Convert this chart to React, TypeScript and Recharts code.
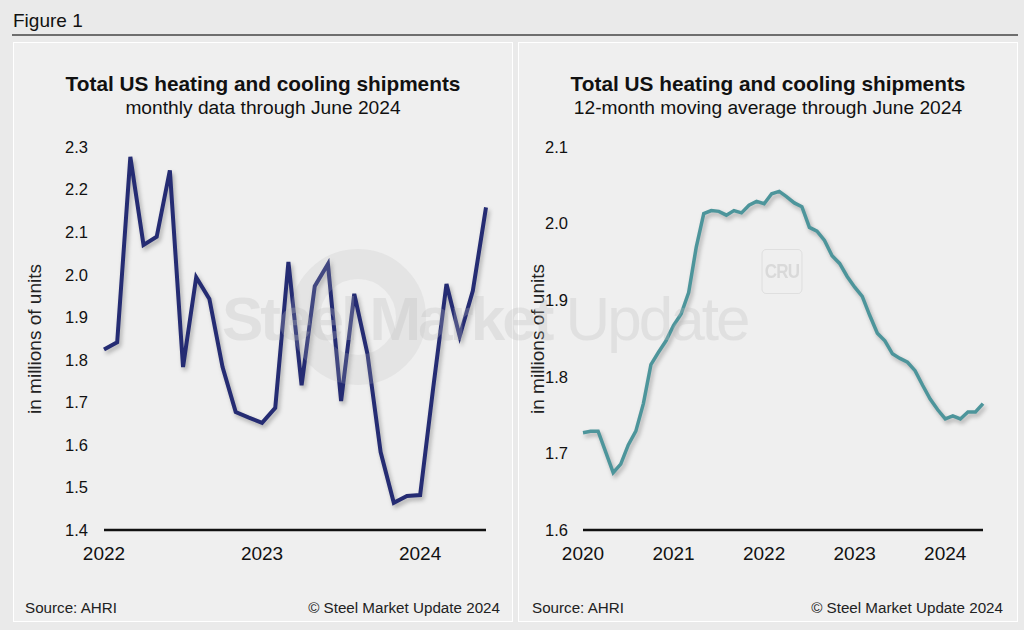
import React from "react";
import { LineChart, Line, XAxis, YAxis } from "recharts";

// Left panel: monthly shipments, Jan 2022 - Jun 2024 (millions of units)
const monthlyStart = 2022;
const monthlyYearTicks = [2022, 2023, 2024];
const monthlyValueTicks = [1.4, 1.5, 1.6, 1.7, 1.8, 1.9, 2.0, 2.1, 2.2, 2.3];
const monthlyShipments = [
  1.824, 1.841, 2.277, 2.07, 2.089, 2.245, 1.783, 1.994, 1.943, 1.783, 1.677, 1.664,
  1.652, 1.687, 2.03, 1.74, 1.973, 2.025, 1.703, 1.955, 1.814, 1.583, 1.464, 1.48,
  1.482, 1.736, 1.978, 1.855, 1.962, 2.158,
];

// Right panel: 12-month moving average, Jan 2020 - Jun 2024
const averageStart = 2020;
const averageYearTicks = [2020, 2021, 2022, 2023, 2024];
const averageValueTicks = [1.6, 1.7, 1.8, 1.9, 2.0, 2.1];
const movingAverage = [
  1.727, 1.729, 1.729, 1.702, 1.675, 1.686, 1.711, 1.729, 1.765, 1.816, 1.832, 1.847,
  1.867, 1.882, 1.91, 1.969, 2.013, 2.017, 2.016, 2.011, 2.017, 2.014, 2.024, 2.029,
  2.026, 2.039, 2.042, 2.035, 2.027, 2.022, 1.995, 1.99, 1.978, 1.958, 1.948, 1.931,
  1.917, 1.905, 1.88, 1.857, 1.847, 1.83, 1.824, 1.819, 1.808, 1.789, 1.771, 1.757,
  1.745, 1.749, 1.745, 1.754, 1.754, 1.765,
];

const FONT = '"Liberation Sans", Arial, Helvetica, sans-serif';
const NAVY = "#252c73";
const TEAL = "#4d959b";

const toRows = (start: number, values: number[]) =>
  values.map((v, i) => ({ t: start + i / 12, v }));

interface PanelProps {
  left: number;
  subtitle: string;
  rows: { t: number; v: number }[];
  yearTicks: number[];
  valueTicks: number[];
  color: string;
  yWidth: number;
  rightMargin: number;
  yTickMargin: number;
  labelX: number;
  strokeWidth: number;
  footRight: number;
  footLeft: number;
}

function Panel(p: PanelProps) {
  return (
    <div
      style={{
        position: "absolute",
        left: p.left,
        top: 42,
        width: 500,
        height: 580,
        boxSizing: "border-box",
        border: "1px solid #ffffff",
        background: "#efefef",
      }}
    >
      <div
        style={{
          position: "absolute",
          left: 0,
          width: "100%",
          top: 31,
          textAlign: "center",
          fontWeight: "bold",
          fontSize: 20.8,
          lineHeight: 1,
          color: "#111",
        }}
      >
        Total US heating and cooling shipments
      </div>
      <div
        style={{
          position: "absolute",
          left: 0,
          width: "100%",
          top: 55,
          textAlign: "center",
          fontSize: 19.2,
          lineHeight: 1,
          color: "#111",
        }}
      >
        {p.subtitle}
      </div>
      <div
        style={{
          position: "absolute",
          left: p.labelX,
          top: 296,
          transform: "translate(-50%, -50%) rotate(-90deg)",
          whiteSpace: "nowrap",
          fontSize: 19,
          lineHeight: 1,
          color: "#222",
        }}
      >
        in millions of units
      </div>
      <div style={{ position: "absolute", left: -1, top: 87 }}>
        <LineChart
          width={500}
          height={440}
          data={p.rows}
          margin={{ top: 17, right: p.rightMargin, bottom: 10, left: 0 }}
        >
          <XAxis
            type="number"
            dataKey="t"
            domain={["dataMin", "dataMax"]}
            ticks={p.yearTicks}
            tickFormatter={(v: number) => String(Math.round(v))}
            tickLine={false}
            axisLine={{ stroke: "#111", strokeWidth: 2.5 }}
            tick={{ fontSize: 19, fill: "#111", fontFamily: FONT }}
            tickMargin={11}
            height={30}
          />
          <YAxis
            type="number"
            domain={[p.valueTicks[0], p.valueTicks[p.valueTicks.length - 1]]}
            ticks={p.valueTicks}
            tickFormatter={(v: number) => v.toFixed(1)}
            axisLine={false}
            tickLine={false}
            tickMargin={p.yTickMargin}
            width={p.yWidth}
            tick={{ fontSize: 16.5, fill: "#111", fontFamily: FONT }}
          />
          <Line
            className="shadowed"
            type="linear"
            dataKey="v"
            stroke={p.color}
            strokeWidth={p.strokeWidth}
            strokeLinejoin="miter"
            dot={false}
            activeDot={false}
            isAnimationActive={false}
          />
        </LineChart>
      </div>
      <div
        style={{
          position: "absolute",
          left: p.footLeft,
          top: 557,
          fontSize: 15.2,
          lineHeight: 1,
          color: "#222",
        }}
      >
        Source: AHRI
      </div>
      <div
        style={{
          position: "absolute",
          right: p.footRight,
          top: 557,
          fontSize: 15.2,
          lineHeight: 1,
          color: "#222",
        }}
      >
        © Steel Market Update 2024
      </div>
    </div>
  );
}

export default function App() {
  const monthlyRows = toRows(monthlyStart, monthlyShipments);
  const averageRows = toRows(averageStart, movingAverage);

  return (
    <div
      style={{
        position: "relative",
        width: 1024,
        height: 630,
        background: "#eaeaea",
        fontFamily: FONT,
        overflow: "hidden",
      }}
    >
      <style>{`body{margin:0} .shadowed .recharts-line-curve{filter:drop-shadow(2px 3px 2px rgba(0,0,0,0.28))}`}</style>
      <div
        style={{
          position: "absolute",
          left: 13,
          top: 11,
          fontSize: 19,
          lineHeight: 1,
          color: "#111",
        }}
      >
        Figure 1
      </div>
      <div
        style={{
          position: "absolute",
          left: 12,
          top: 34,
          width: 1006,
          height: 1.5,
          background: "#6e6e6e",
        }}
      />
      <Panel
        left={13}
        subtitle="monthly data through June 2024"
        rows={monthlyRows}
        yearTicks={monthlyYearTicks}
        valueTicks={monthlyValueTicks}
        color={NAVY}
        yWidth={91}
        rightMargin={27}
        yTickMargin={10}
        labelX={20}
        strokeWidth={4}
        footLeft={11}
        footRight={12}
      />
      <Panel
        left={518}
        subtitle="12-month moving average through June 2024"
        rows={averageRows}
        yearTicks={averageYearTicks}
        valueTicks={averageValueTicks}
        color={TEAL}
        yWidth={65}
        rightMargin={35}
        yTickMargin={9}
        labelX={18}
        strokeWidth={3.5}
        footLeft={13}
        footRight={14}
      />
      {/* faint watermark across both panels */}
      <div style={{ position: "absolute", inset: 0, pointerEvents: "none" }}>
        <div
          style={{
            position: "absolute",
            left: 290,
            top: 249,
            width: 76,
            height: 76,
            borderRadius: "50%",
            border: "30px solid rgba(185,185,185,0.2)",
          }}
        />
        <div
          style={{
            position: "absolute",
            left: 222,
            top: 288,
            fontSize: 62,
            lineHeight: 1,
            letterSpacing: -3,
            color: "rgba(185,185,185,0.28)",
            whiteSpace: "nowrap",
          }}
        >
          <span style={{ fontWeight: "bold" }}>Steel Market</span> Update
        </div>
        <div
          style={{
            position: "absolute",
            left: 758,
            top: 249,
            width: 48,
            height: 45,
            boxSizing: "border-box",
            border: "1px solid rgba(200,200,200,0.45)",
            borderRadius: 5,
            display: "flex",
            alignItems: "center",
            justifyContent: "center",
            fontWeight: "bold",
            fontSize: 20,
            letterSpacing: -1,
            color: "rgba(185,185,185,0.4)",
            transform: "scaleX(0.85)",
          }}
        >
          CRU
        </div>
      </div>
    </div>
  );
}
